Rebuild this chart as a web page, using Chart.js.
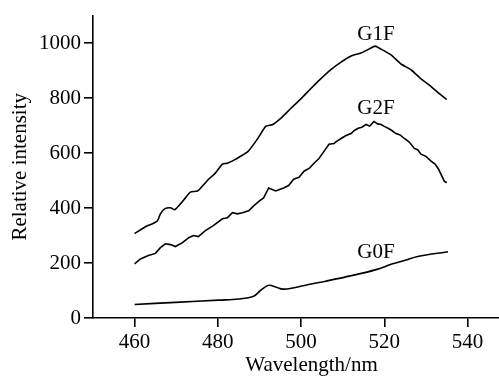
<!DOCTYPE html>
<html>
<head>
<meta charset="utf-8">
<script src="https://cdn.jsdelivr.net/npm/chart.js@4/dist/chart.umd.min.js"></script>
<style>
html,body{margin:0;padding:0;background:#fff;overflow:hidden;width:499px;height:378px;}
canvas{display:block;}
</style>
</head>
<body>
<canvas id="c" width="530" height="378" style="width:530px;height:378px"></canvas>
<script>
// ---- data ----
const g1fX = [460, 462.6, 464.3, 465.5, 466.2, 467.2, 468.6, 469.6, 471, 472.2, 473.4, 475.1, 476.3, 477.8, 479.4, 481.1, 482.3, 484.3, 487.2, 489.6, 491.5, 493.2, 495.1, 497.5, 500, 502.3, 504.7, 507.1, 509.6, 512, 514.4, 516.3, 517.8, 519.2, 521.6, 524, 526.4, 528.8, 531.3, 533.2, 535];
const g1fY = [307, 332, 343, 354, 379, 397, 401, 394, 415, 437, 458, 462, 480, 505, 527, 560, 563, 578, 605, 653, 697, 704, 726, 762, 798, 834, 870, 903, 931, 953, 964, 978, 989, 978, 957, 924, 903, 870, 841, 816, 795];

const g2fX = [460, 461.4, 463.3, 465, 466.2, 467.4, 468.6, 469.8, 471.5, 473, 474.1, 475.3, 477, 478.9, 481.1, 482.3, 483.5, 484.7, 485.9, 487.4, 488.6, 490, 491, 492.2, 493.9, 495.8, 497, 498.2, 499.5, 500.7, 502, 503.1, 504.3, 505.5, 506.7, 507.9, 508.8, 509.6, 510.8, 512, 512.8, 513.7, 514.6, 515.6, 516.5, 517.5, 518.4, 519.2, 520, 520.9, 521.8, 522.8, 523.8, 524.8, 526, 527.2, 528, 528.8, 530, 531.3, 532.2, 533, 534.4, 535];
const g2fY = [197, 215, 227, 235, 256, 270, 267, 260, 274, 292, 300, 296, 318, 336, 361, 365, 383, 379, 383, 390, 408, 426, 437, 473, 462, 473, 482, 505, 512, 534, 545, 563, 580, 606, 632, 635, 645, 653, 664, 671, 682, 690, 694, 704, 698, 715, 706, 704, 697, 690, 682, 671, 666, 653, 640, 617, 612, 596, 588, 570, 560, 542, 498, 492];

const g0fX = [460, 469.8, 480.2, 485, 488.6, 490.3, 492.2, 493.9, 495.6, 498, 501.8, 505.9, 512.4, 518, 522, 525, 528, 535.3];
const g0fY = [49, 57, 65, 69, 79, 101, 119, 113, 105, 109, 122, 134, 155, 176, 197, 210, 224, 241];

const xTicks = [460, 480, 500, 520, 540];
const yTicks = [0, 200, 400, 600, 800, 1000];

const seriesNames = ['G1F', 'G2F', 'G0F'];
const labelX = [518, 518, 518];
const labelY = [1031, 761, 238];

// ---- build ----
const pts = (xs, ys) => xs.map((x, i) => ({x: x, y: ys[i]}));
const FONT = 'Liberation Serif, Times New Roman, serif';
const FS = 21;

const labelPlugin = {
  id: 'seriesLabels',
  afterDatasetsDraw(chart) {
    const {ctx, scales} = chart;
    ctx.save();
    ctx.fillStyle = '#000';
    ctx.font = FS + 'px ' + FONT;
    ctx.textAlign = 'center';
    ctx.textBaseline = 'middle';
    seriesNames.forEach((n, i) => {
      ctx.fillText(n, scales.x.getPixelForValue(labelX[i]), scales.y.getPixelForValue(labelY[i]));
    });
    ctx.restore();
  }
};

const lineDs = (label, xs, ys, tension) => ({
  label: label,
  data: pts(xs, ys),
  borderColor: '#000',
  borderWidth: 1.6,
  pointRadius: 0,
  fill: false,
  tension: tension
});

new Chart(document.getElementById('c'), {
  type: 'line',
  data: {
    datasets: [
      lineDs('G1F', g1fX, g1fY, 0.2),
      lineDs('G2F', g2fX, g2fY, 0),
      lineDs('G0F', g0fX, g0fY, 0.35)
    ]
  },
  options: {
    responsive: false,
    animation: false,
    events: [],
    layout: {padding: {top: 13, left: 0, right: 0, bottom: 0}},
    plugins: {legend: {display: false}, tooltip: {enabled: false}},
    scales: {
      x: {
        type: 'linear',
        min: 450,
        max: 555,
        afterBuildTicks: s => { s.ticks = xTicks.map(v => ({value: v})); },
        afterFit: s => { s.height = 60; },
        border: {display: true, color: '#000', width: 1.6},
        grid: {display: true, drawOnChartArea: false, drawTicks: true, tickLength: 9, color: '#000', lineWidth: 1.6},
        ticks: {color: '#000', font: {family: FONT, size: FS}, padding: 3, maxRotation: 0, callback: v => String(v)},
        title: {display: true, text: 'Wavelength/nm', color: '#000', font: {family: FONT, size: FS}, padding: {top: 0, bottom: 0}}
      },
      y: {
        type: 'linear',
        min: 0,
        max: 1100,
        afterBuildTicks: s => { s.ticks = yTicks.map(v => ({value: v})); },
        afterFit: s => { s.width = 93; },
        border: {display: true, color: '#000', width: 1.6},
        grid: {display: true, drawOnChartArea: false, drawTicks: true, tickLength: 9, color: '#000', lineWidth: 1.6},
        ticks: {color: '#000', font: {family: FONT, size: FS}, padding: 3, callback: v => String(v)},
        title: {display: true, text: 'Relative intensity', color: '#000', font: {family: FONT, size: FS}, padding: {top: 8, bottom: 0}}
      }
    }
  },
  plugins: [labelPlugin]
});
</script>
</body>
</html>
